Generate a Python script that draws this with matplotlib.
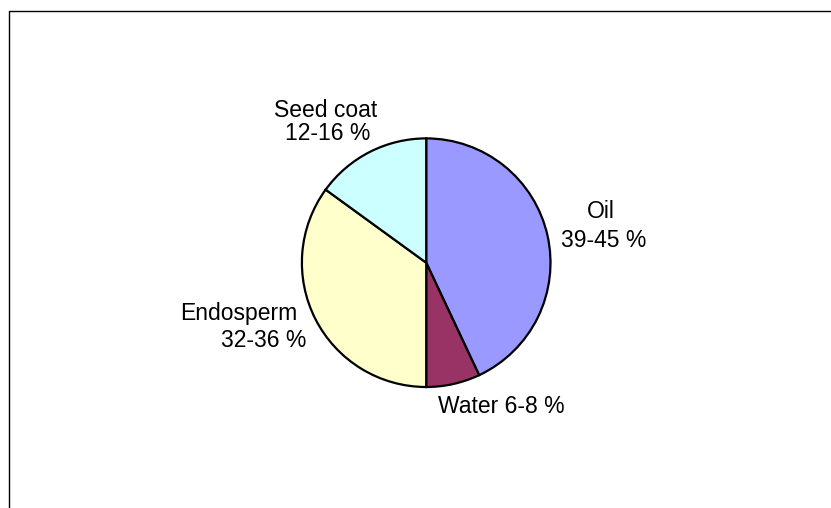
import matplotlib
matplotlib.use("Agg")
import matplotlib.pyplot as plt

# composition of the seed (share of weight)
parts = ["Oil", "Water", "Endosperm", "Seed coat"]
shares = [43, 7, 35, 15]
ranges = ["39-45 %", "6-8 %", "32-36 %", "12-16 %"]
colours = ["#9999FF", "#993366", "#FFFFCC", "#CCFFFF"]

W, H = 831, 508
fig = plt.figure(figsize=(W / 100, H / 100), dpi=100)
ax = fig.add_axes([0, 0, 1, 1])

cx, cy, r = 426.2, H - 262.7, 124.3
ax.pie(shares, colors=colours, startangle=90, counterclock=False,
       center=(cx, cy), radius=r, frame=True,
       wedgeprops=dict(edgecolor="black", linewidth=1.6))
ax.set_xlim(0, W)
ax.set_ylim(0, H)
ax.set_aspect("equal")
ax.set_axis_off()

# chart area border (only top and left are inside the picture)
ax.plot([8.5, 8.5, W + 5], [-5, H - 10.5, H - 10.5], color="black", lw=1.0)

font = dict(family="Liberation Sans", fontsize=16.5, color="black",
            ha="center", va="baseline")

# label lines: (text, x centre, baseline y in picture pixels)
lines = [
    (parts[3], 326, 116.7), (ranges[3], 328, 140),
    (parts[0], 600.5, 218), (ranges[0], 604, 246.7),
    (parts[2], 239, 320), (ranges[2], 263.3, 346.7),
    (parts[1] + " " + ranges[1], 501.5, 413.3),
]
for txt, x, y in lines:
    ax.text(x, H - y, txt, **font)

fig.savefig("out.png", dpi=100)
